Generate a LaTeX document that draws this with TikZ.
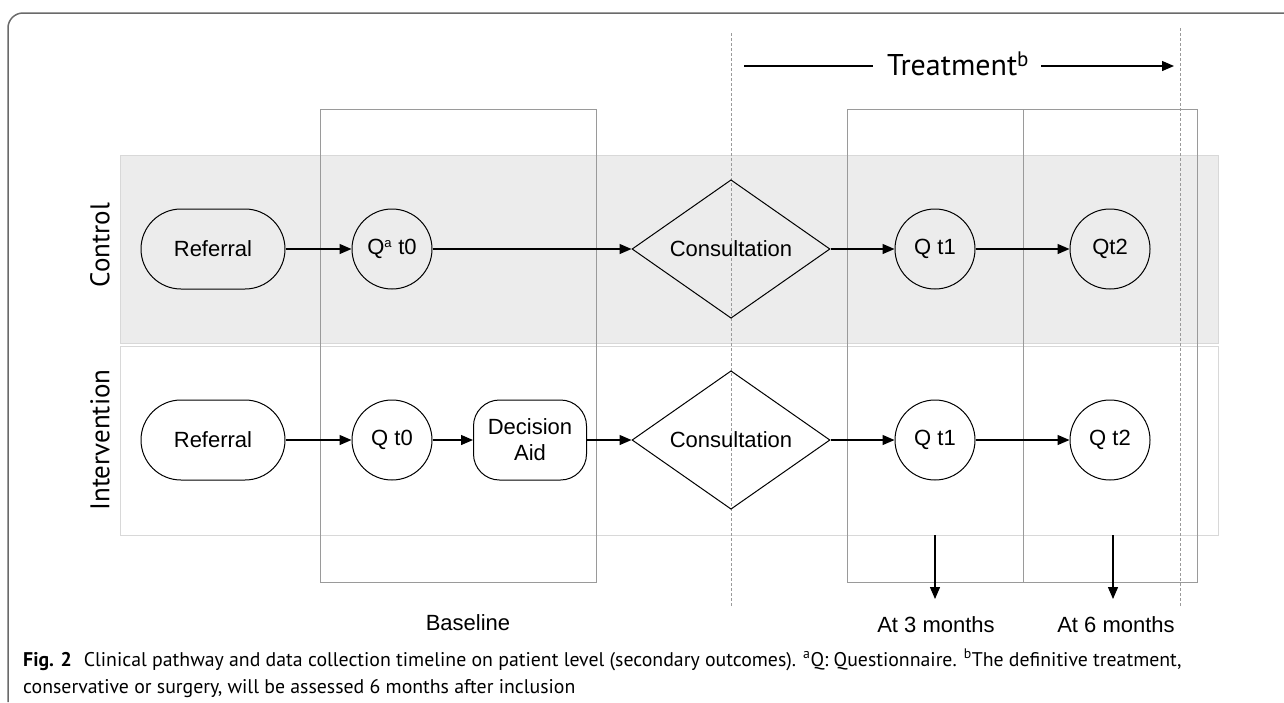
\documentclass[tikz,border=0pt]{standalone}
\usepackage{fontspec}
\setmainfont{Liberation Sans}
\newfontfamily\lanefont{PT Sans}
\newfontfamily\capfont{PT Sans}
\usetikzlibrary{shapes.geometric,arrows.meta}
\definecolor{lanefill}{HTML}{ECECEC}
\definecolor{laneline}{HTML}{D8D8D8}
\definecolor{boxline}{HTML}{9A9A9A}
\definecolor{frameline}{HTML}{6A6A6A}
\definecolor{dashline}{HTML}{9A9A9A}
\tikzset{
  every node/.style={font=\fontsize{22}{26}\selectfont},
  stadium/.style={draw, line width=1pt, rounded corners=40pt, minimum width=144pt, minimum height=80pt, inner sep=0pt},
  aidbox/.style={draw, line width=1pt, rounded corners=26pt, minimum width=113pt, minimum height=80pt, inner sep=0pt, align=center, font=\fontsize{22}{26}\selectfont},
  qcirc/.style={draw, line width=1pt, ellipse, minimum width=80pt, minimum height=80pt, inner sep=0pt},
  consult/.style={draw, line width=1pt, diamond, minimum width=198pt, minimum height=119pt, inner sep=0pt},
  flow/.style={line width=1.3pt, -{Triangle[length=12pt,width=10pt]}},
  lane/.style={draw=laneline, line width=1pt},
  phase/.style={draw=boxline, line width=1pt},
  guide/.style={draw=dashline, line width=0.9pt, dash pattern=on 3pt off 2pt},
  lanelabel/.style={font=\lanefont\fontsize{27}{30}\selectfont, rotate=90},
  captext/.style={anchor=base west, inner sep=0pt, font=\capfont\fontsize{19.8}{23}\selectfont},
}
\newcommand{\smsup}[1]{\textsuperscript{\fontsize{13}{13}\selectfont #1}}
\begin{document}
\begin{tikzpicture}[x=1pt,y=-1pt]
\useasboundingbox (0,0) rectangle (1284,702);
% frame
\draw[frameline, line width=1.5pt] (8,702) -- (8,28) arc[start angle=180, end angle=270, radius=15] -- (1284,13);
% lanes
\fill[lanefill] (120,155) rectangle (1218,343);
\draw[lane] (120,155) rectangle (1218,343);
\draw[lane] (120,346) rectangle (1218,535);
% phase boxes
\draw[phase] (320,109) rectangle (596,582);
\draw[phase] (847,109) rectangle (1197,582);
\draw[phase] (1023,109) -- (1023,582);
% guide dashed lines
\draw[guide] (731,33) -- (731,607);
\draw[guide] (1180,28) -- (1180,607);
% lane labels
\node[lanelabel] (lc) at (100,245) {Control};
\node[lanelabel] (li) at (100,440) {Intervention};
% treatment
\node[font=\lanefont\fontsize{30}{34}\selectfont, inner sep=0pt] (treat) at (958,64) {Treatment\textsuperscript{b}};
\coordinate (tl) at (744,66);
\coordinate (tr) at (1174,66);
\draw[line width=1.3pt] (tl) -- ([xshift=-14pt]tl -| treat.west);
\draw[flow] ([xshift=12pt]tr -| treat.east) -- (tr);
% control row
\node[stadium] (cref) at (213,249) {Referral};
\node[qcirc] (cq0) at (392,249) {Q\smsup{a} t0};
\node[consult] (ccons) at (731,249) {Consultation};
\node[qcirc] (cq1) at (935,249) {Q t1};
\node[qcirc] (cq2) at (1110,249) {Qt2};
\draw[flow] (cref) -- (cq0);
\draw[flow] (cq0) -- (ccons);
\draw[flow] (ccons) -- (cq1);
\draw[flow] (cq1) -- (cq2);
% intervention row
\node[stadium] (iref) at (213,440) {Referral};
\node[qcirc] (iq0) at (392,440) {Q t0};
\node[aidbox] (iaid) at (530,440) {Decision\\Aid};
\node[consult] (icons) at (731,440) {Consultation};
\node[qcirc] (iq1) at (935,440) {Q t1};
\node[qcirc] (iq2) at (1110,440) {Q t2};
\draw[flow] (iref) -- (iq0);
\draw[flow] (iq0) -- (iaid);
\draw[flow] (iaid) -- (icons);
\draw[flow] (icons) -- (iq1);
\draw[flow] (iq1) -- (iq2);
% follow-up arrows
\coordinate (d3a) at (935,535);
\coordinate (d3b) at (935,599);
\coordinate (d6a) at (1113,535);
\coordinate (d6b) at (1113,599);
\draw[flow] (d3a) -- (d3b);
\draw[flow] (d6a) -- (d6b);
% bottom labels
\node (base) at (468,623) {Baseline};
\node (m3) at (936,625) {At 3 months};
\node (m6) at (1116,625) {At 6 months};
% caption
\node[captext] (cap1) at (23,666) {\textbf{Fig. 2}\hspace{0.6em}Clinical pathway and data collection timeline on patient level (secondary outcomes). \textsuperscript{a}Q: Questionnaire. \textsuperscript{b}The definitive treatment,};
\node[captext] (cap2) at (23,693) {conservative or surgery, will be assessed 6 months after inclusion};
\end{tikzpicture}
\end{document}
